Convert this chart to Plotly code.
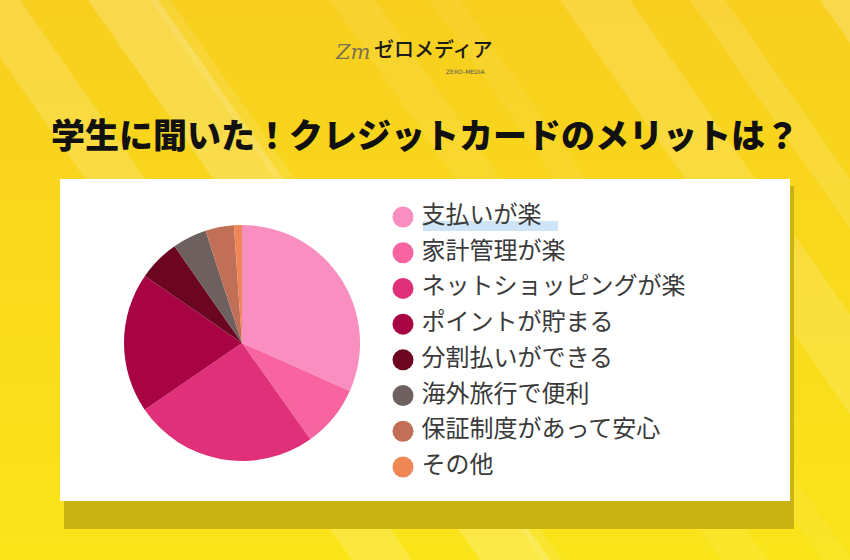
import plotly.graph_objects as go

labels = ["支払いが楽", "家計管理が楽", "ネットショッピングが楽", "ポイントが貯まる",
          "分割払いができる", "海外旅行で便利", "保証制度があって安心", "その他"]
values = [31.7, 8.5, 25.3, 19.2, 5.7, 4.7, 3.9, 1.1]
colors = ["#F98EC0", "#F7649F", "#E0307A", "#A80444",
          "#6B0520", "#6F6060", "#C26F58", "#EE8656"]
title_text = "学生に聞いた！クレジットカードのメリットは？"

W, H = 850, 560
JP = "Noto Sans CJK JP"

def px(x):
    return x / W

def py(y):
    return 1 - y / H

fig = go.Figure()

# pie
cx, cy, r = 242, 343, 118
fig.add_trace(go.Pie(
    labels=labels, values=values, sort=False, direction="clockwise", rotation=0,
    marker=dict(colors=colors, line=dict(width=0)),
    textinfo="none", hoverinfo="label+percent", showlegend=False,
    domain=dict(x=[px(cx - r), px(cx + r)], y=[py(cy + r), py(cy - r)]),
))

# custom legend: circle markers + labels
fig.add_trace(go.Scatter(
    x=[0] * len(labels), y=list(range(len(labels))), mode="markers",
    marker=dict(size=21, color=colors, line=dict(width=0)),
    cliponaxis=False, showlegend=False, hoverinfo="skip",
))
fig.add_trace(go.Scatter(
    x=[0.052] * len(labels), y=list(range(len(labels))), mode="text",
    text=labels, textposition="middle right",
    textfont=dict(family=JP, size=24, color="#3a3a3a"),
    cliponaxis=False, showlegend=False, hoverinfo="skip",
))

shapes = []
# vertical background gradient (warm yellow top -> lemon bottom)
top_c = (248, 207, 30)
bot_c = (250, 228, 26)
n = 28
for i in range(n):
    t = i / (n - 1)
    c = tuple(int(round(a + (b - a) * t)) for a, b in zip(top_c, bot_c))
    shapes.append(dict(type="rect", xref="paper", yref="paper", x0=0, x1=1,
                       y0=1 - (i + 1) / n, y1=1 - i / n,
                       fillcolor=f"rgb{c}", line=dict(width=0), layer="below"))
# diagonal light stripes
slope = 0.7
for x0, w, op in [(-40, 60, 0.16), (88, 70, 0.2), (150, 20, 0.1), (330, 45, 0.08),
                  (430, 30, 0.06), (560, 70, 0.15), (690, 35, 0.12), (820, 45, 0.2)]:
    dx = slope * H
    path = f"M {px(x0)} 1 L {px(x0 + w)} 1 L {px(x0 + w + dx)} 0 L {px(x0 + dx)} 0 Z"
    shapes.append(dict(type="path", path=path, xref="paper", yref="paper",
                       fillcolor="white", opacity=op, line=dict(width=0), layer="below"))
# card shadow
shapes.append(dict(type="rect", xref="paper", yref="paper", x0=px(64), x1=px(794),
                   y0=py(529), y1=py(186), fillcolor="#C9B414", line=dict(width=0), layer="below"))
# white card
shapes.append(dict(type="rect", xref="paper", yref="paper", x0=px(60), x1=px(790),
                   y0=py(501), y1=py(179), fillcolor="white", line=dict(width=0), layer="below"))
# highlight under first legend label
shapes.append(dict(type="rect", xref="paper", yref="paper", x0=px(423), x1=px(558),
                   y0=py(231), y1=py(221), fillcolor="#CDE5F6", line=dict(width=0), layer="below"))

annotations = [
    dict(text=title_text, x=0.5, y=py(133), xref="paper", yref="paper",
         showarrow=False, xanchor="center", yanchor="middle",
         font=dict(family=JP, size=34, color="#111111", weight=900)),
    dict(text="<i>Zm</i>", x=px(353), y=py(52), xref="paper", yref="paper", showarrow=False,
         xanchor="center", yanchor="middle",
         font=dict(family="DejaVu Serif", size=21, color="#7a7350")),
    dict(text="ゼロメディア", x=px(433), y=py(48), xref="paper", yref="paper", showarrow=False,
         xanchor="center", yanchor="middle",
         font=dict(family=JP, size=20, color="#1a1a1a", weight=500)),
    dict(text="ZERO-MEDIA", x=px(465), y=py(71), xref="paper", yref="paper", showarrow=False,
         xanchor="center", yanchor="middle",
         font=dict(family="DejaVu Sans", size=6, color="#555555")),
]

fig.update_layout(
    width=W, height=H, margin=dict(l=0, r=0, t=0, b=0),
    paper_bgcolor="#F8D41E", plot_bgcolor="rgba(0,0,0,0)",
    shapes=shapes, annotations=annotations,
    xaxis=dict(domain=[px(403), px(760)], range=[0, 1], visible=False, fixedrange=True),
    yaxis=dict(domain=[py(467), py(217)], range=[7, 0], visible=False, fixedrange=True),
    showlegend=False,
)

fig.write_html("out.html", config=dict(displayModeBar=False),
               post_script="document.body.style.margin='0';document.body.style.overflow='hidden';")
